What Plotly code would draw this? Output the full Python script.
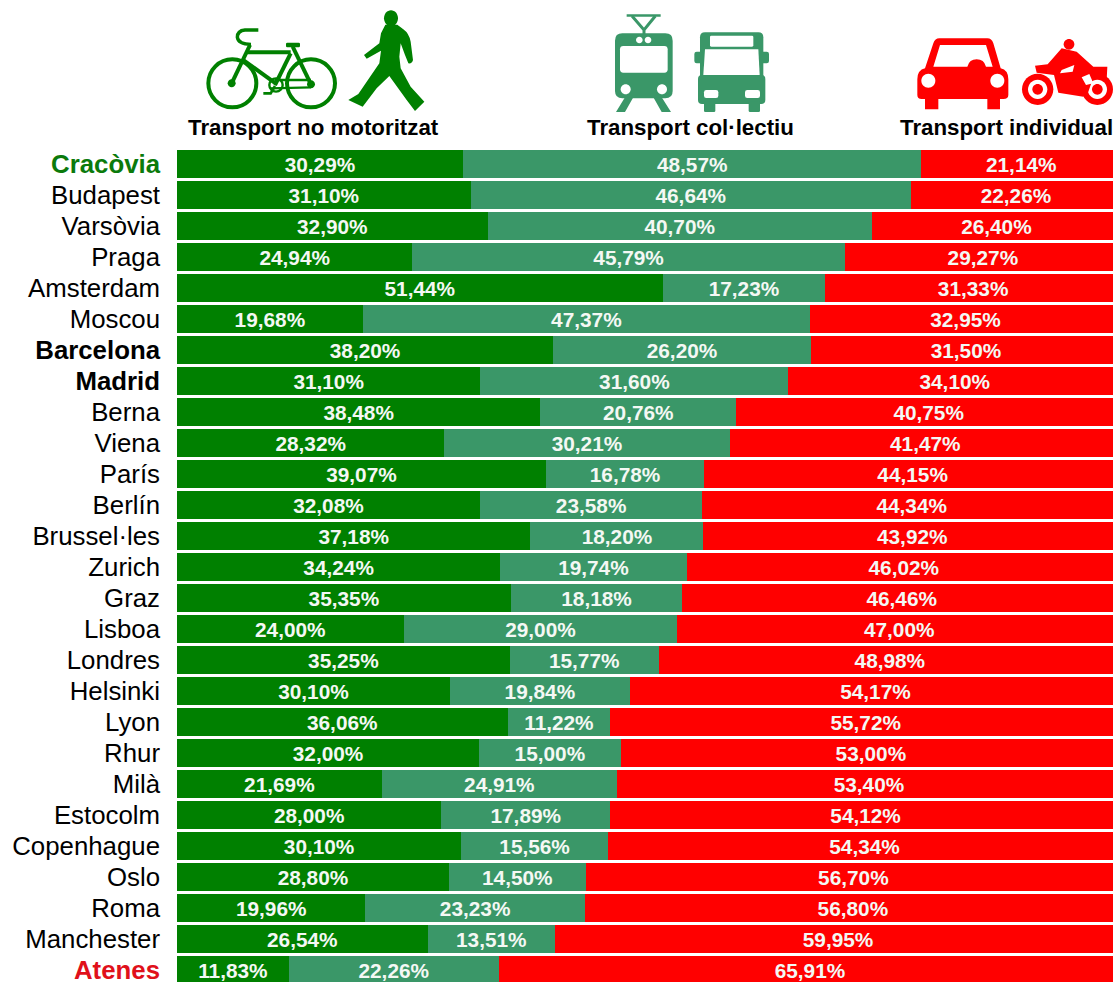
import re
import plotly.graph_objects as go

cities = ["Cracòvia","Budapest","Varsòvia","Praga","Amsterdam","Moscou","Barcelona","Madrid","Berna","Viena",
          "París","Berlín","Brussel·les","Zurich","Graz","Lisboa","Londres","Helsinki","Lyon","Rhur","Milà",
          "Estocolm","Copenhague","Oslo","Roma","Manchester","Atenes"]
no_motor = [30.29,31.10,32.90,24.94,51.44,19.68,38.20,31.10,38.48,28.32,39.07,32.08,37.18,34.24,35.35,24.00,
            35.25,30.10,36.06,32.00,21.69,28.00,30.10,28.80,19.96,26.54,11.83]
collectiu = [48.57,46.64,40.70,45.79,17.23,47.37,26.20,31.60,20.76,30.21,16.78,23.58,18.20,19.74,18.18,29.00,
             15.77,19.84,11.22,15.00,24.91,17.89,15.56,14.50,23.23,13.51,22.26]
individual = [21.14,22.26,26.40,29.27,31.33,32.95,31.50,34.10,40.75,41.47,44.15,44.34,43.92,46.02,46.46,47.00,
              48.98,54.17,55.72,53.00,53.40,54.12,54.34,56.70,56.80,59.95,65.91]
headers = ["Transport no motoritzat", "Transport col·lectiu", "Transport individual"]

GREEN, TEAL, RED = "#008000", "#3A9768", "#FF0000"
FONT = "Liberation Sans"
W, H, L, T = 1113, 982, 177, 146
PW, PH = W - L, H - T


def fmt(vals):
    return [f"{v:.2f}".replace(".", ",") + "%" for v in vals]


def tick(c):
    if c == "Cracòvia":
        return f'<b><span style="color:#0B7A0B">{c}</span></b>'
    if c == "Atenes":
        return f'<b><span style="color:#E0101A">{c}</span></b>'
    if c in ("Barcelona", "Madrid"):
        return f"<b>{c}</b>"
    return c


fig = go.Figure()
for name, vals, col in (("Transport no motoritzat", no_motor, GREEN),
                        ("Transport col·lectiu", collectiu, TEAL),
                        ("Transport individual", individual, RED)):
    fig.add_bar(y=cities, x=vals, name=name, orientation="h", marker=dict(color=col, line=dict(width=0)),
                text=fmt(vals), textposition="inside", insidetextanchor="middle", textangle=0,
                constraintext="none", cliponaxis=True,
                textfont=dict(family=FONT, size=20.8, color="#F4F8F4", weight="bold"))


def conv(path, ox, oy):
    """Icon outline written in px/3 units around an origin -> paper coordinates."""
    out, i = [], 0
    for tok in re.findall(r"[A-Za-z]|-?[\d.]+", path):
        if tok.isalpha():
            out.append(tok)
        else:
            v = float(tok) / 3
            if i % 2 == 0:
                out.append(f"{(v + ox - L) / PW:.5f}")
            else:
                out.append(f"{(H - (v + oy)) / PH:.5f}")
            i += 1
    return " ".join(out)


def circ(cx, cy, r, ry=None):
    ry = ry or r
    k = 0.5523
    return (f"M {cx-r} {cy} C {cx-r} {cy-k*ry} {cx-k*r} {cy-ry} {cx} {cy-ry} "
            f"C {cx+k*r} {cy-ry} {cx+r} {cy-k*ry} {cx+r} {cy} "
            f"C {cx+r} {cy+k*ry} {cx+k*r} {cy+ry} {cx} {cy+ry} "
            f"C {cx-k*r} {cy+ry} {cx-r} {cy+k*ry} {cx-r} {cy} Z")


def rrect(x0, y0, x1, y1, r):
    return (f"M {x0+r} {y0} L {x1-r} {y0} Q {x1} {y0} {x1} {y0+r} L {x1} {y1-r} Q {x1} {y1} {x1-r} {y1} "
            f"L {x0+r} {y1} Q {x0} {y1} {x0} {y1-r} L {x0} {y0+r} Q {x0} {y0} {x0+r} {y0} Z")


shapes = []


def fill(path, col, o):
    shapes.append(dict(type="path", path=conv(path, *o), xref="paper", yref="paper",
                       fillcolor=col, line=dict(width=0), layer="above"))


def stroke(path, col, w, o):
    shapes.append(dict(type="path", path=conv(path, *o), xref="paper", yref="paper",
                       line=dict(color=col, width=w), layer="above"))


# bicycle and walker
o1 = (180, 0)
stroke(circ(157, 250, 72), GREEN, 4, o1)
stroke(circ(393, 250, 72), GREEN, 4, o1)
fill(circ(155, 250, 12), GREEN, o1)
fill(circ(393, 253, 12), GREEN, o1)
stroke("M 235 90 L 195 90 Q 172 92 172 112 Q 175 133 213 133", GREEN, 3.4, o1)
stroke("M 210 135 L 155 250", GREEN, 4, o1)
stroke("M 200 157 L 332 157", GREEN, 4, o1)
stroke("M 338 140 L 393 253", GREEN, 4, o1)
stroke("M 190 180 L 290 252", GREEN, 4, o1)
stroke("M 332 160 L 285 255", GREEN, 4, o1)
stroke("M 285 240 L 393 240 M 270 265 L 393 262", GREEN, 2.4, o1)
stroke(circ(288, 255, 20), GREEN, 2.4, o1)
stroke("M 250 280 L 272 280 L 285 258", GREEN, 2.6, o1)
fill(rrect(318, 128, 360, 142, 4), GREEN, o1)
fill(circ(633, 55, 21, 24), GREEN, o1)
fill("M 616 74 L 652 74 L 670 88 Q 687 100 692 125 L 699 180 Q 696 192 685 190 L 675 165 L 662 130 "
     "L 658 170 L 662 205 L 692 260 L 733 305 L 705 333 L 680 300 L 628 228 L 590 265 L 548 320 L 505 300 "
     "L 535 282 L 598 190 L 603 152 L 560 176 L 552 165 L 598 130 L 603 100 Z", GREEN, o1)

# tram and bus
o2 = (570, 0)
fill("M 170 43 L 272 43 L 272 50 L 170 50 Z", TEAL, o2)
stroke("M 186 48 L 222 90 L 256 48 M 222 90 L 222 105", TEAL, 3, o2)
fill(rrect(135, 100, 308, 295, 22), TEAL, o2)
fill(rrect(150, 138, 293, 218, 10), "white", o2)
for c in ((208, 120, 10), (234, 120, 10), (167, 268, 15), (276, 268, 15)):
    fill(circ(*c), "white", o2)
fill("M 165 292 L 190 292 L 165 336 L 138 336 Z M 250 292 L 275 292 L 303 336 L 275 336 Z", TEAL, o2)
fill(rrect(390, 97, 580, 312, 15), TEAL, o2)
fill(rrect(373, 155, 400, 190, 7), TEAL, o2)
fill(rrect(570, 155, 597, 190, 7), TEAL, o2)
fill(rrect(384, 225, 586, 312, 12), TEAL, o2)
fill(rrect(402, 305, 436, 336, 4), TEAL, o2)
fill(rrect(536, 305, 570, 336, 4), TEAL, o2)
fill(rrect(420, 107, 550, 140, 4), "white", o2)
fill("M 405 148 L 565 148 L 569 225 L 400 225 Z", "white", o2)
fill(rrect(402, 270, 445, 294, 7), "white", o2)
fill(rrect(525, 270, 570, 294, 7), "white", o2)

# car and motorbike
o3 = (880, 20)
fill("M 178 55 L 322 55 Q 335 55 340 70 L 362 145 Q 385 150 385 178 L 385 225 Q 385 237 370 237 L 360 237 "
     "L 360 268 L 322 268 L 322 237 L 175 237 L 175 268 L 135 268 L 135 237 L 125 237 Q 112 237 112 225 "
     "L 112 178 Q 112 150 135 145 L 160 70 Q 165 55 178 55 Z", RED, o3)
fill("M 180 75 L 318 75 L 338 140 L 318 140 Q 312 118 290 118 Q 268 118 262 140 L 160 140 Z", "white", o3)
fill(circ(145, 182, 21), "white", o3)
fill(circ(352, 182, 21), "white", o3)
fill(circ(473, 208, 47), RED, o3)
fill(circ(473, 208, 29), "white", o3)
fill(circ(473, 208, 16), RED, o3)
fill(circ(652, 208, 47), RED, o3)
fill(circ(652, 208, 29), "white", o3)
fill(circ(652, 208, 16), RED, o3)
fill(circ(567, 73, 16), RED, o3)
fill("M 465 137 L 503 133 L 545 85 L 590 95 L 640 140 L 682 140 L 680 180 L 640 172 L 625 215 L 610 230 "
     "L 535 218 L 522 165 L 470 158 Z", RED, o3)
fill("M 545 150 L 583 135 L 578 155 L 540 160 Z M 605 172 L 628 162 L 640 190 L 618 195 Z", "white", o3)

annotations = [dict(text=f"<b>{t}</b>", x=(px - L) / PW, y=(H - 127) / PH, xref="paper", yref="paper",
                    xanchor="center", yanchor="middle", showarrow=False,
                    font=dict(family=FONT, size=22.3, color="black"))
               for t, px in zip(headers, (313.5, 690.5, 1006))]

fig.update_layout(
    width=W, height=H, margin=dict(l=L, r=0, t=T, b=0, pad=0, autoexpand=False),
    barmode="stack", barnorm="percent", bargap=0.1, showlegend=False,
    paper_bgcolor="white", plot_bgcolor="white",
    xaxis=dict(range=[0, 99.15], visible=False),
    yaxis=dict(type="category", categoryorder="array", categoryarray=cities, range=[26.387, -0.581],
               tickmode="array", tickvals=cities, ticktext=[tick(c) for c in cities],
               showgrid=False, zeroline=False, showline=False, ticks="", ticklabelstandoff=16,
               tickfont=dict(family=FONT, size=25.8, color="black")),
    shapes=shapes, annotations=annotations,
)
fig.write_html("out.html", config={"displayModeBar": False},
               post_script="document.body.style.margin='0';document.body.style.overflow='hidden';")
